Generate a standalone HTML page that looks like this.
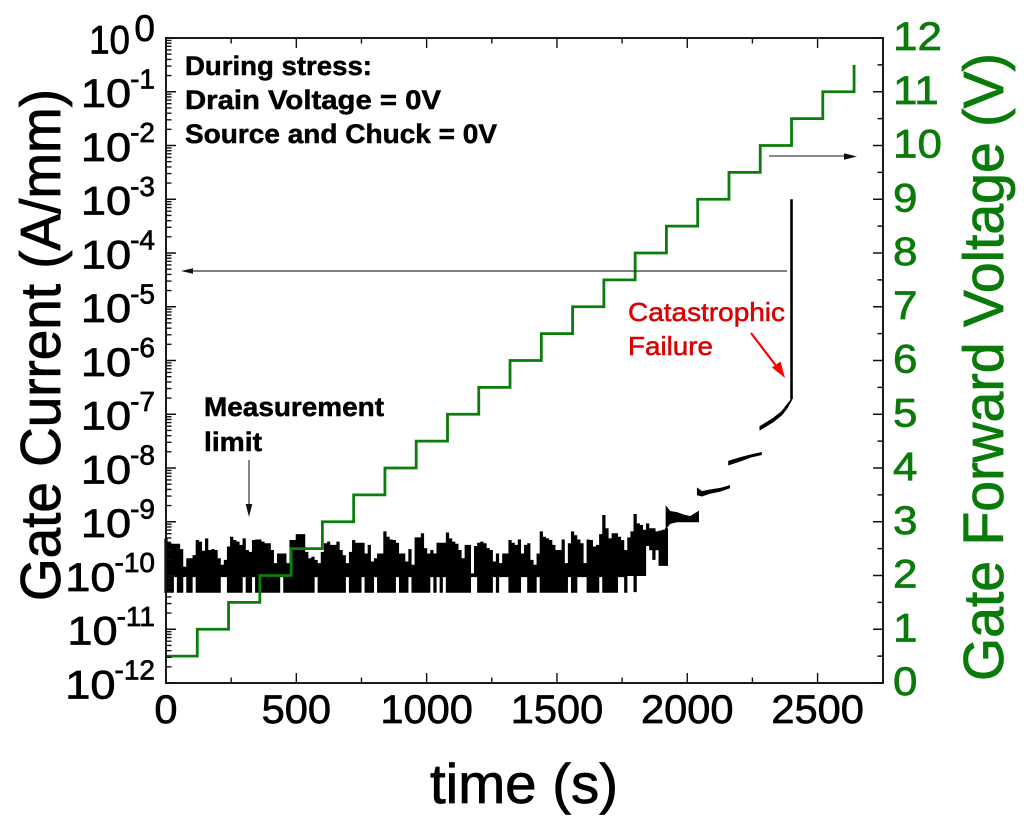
<!DOCTYPE html>
<html lang="en">
<head>
<meta charset="utf-8">
<title>Gate current and forward voltage versus time</title>
<style>
html,body{margin:0;padding:0;background:#fff;}
svg{display:block;filter:blur(0.35px);}
text{font-family:"Liberation Sans",Arial,sans-serif;}
</style>
</head>
<body>
<svg id="chart" xmlns="http://www.w3.org/2000/svg" width="1024" height="823" viewBox="0 0 1024 823">
  <rect width="1024" height="823" fill="#fff"/>
  <g id="noise-layer"></g>
  <g id="green-layer"></g>
  <g id="axis-layer"></g>

  <g>
    <line x1="787" y1="271" x2="188" y2="271" stroke="#333" stroke-width="1.3"/>
    <polygon points="181,271 193,268.3 193,273.7" fill="#111"/>
  </g>
  <g>
    <line x1="769" y1="156" x2="848" y2="156" stroke="#444" stroke-width="1.3"/>
    <polygon points="857,156.5 844,153.3 844,159.7" fill="#111"/>
  </g>
  <g>
    <line x1="249" y1="460" x2="249" y2="508" stroke="#444" stroke-width="1.3"/>
    <polygon points="249,517 245.7,504 252.3,504" fill="#111"/>
  </g>
  <g>
    <line x1="751" y1="333" x2="780" y2="371" stroke="#f00" stroke-width="2.2"/>
    <polygon points="785,378 772,367.5 780.5,361.5" fill="#f00"/>
  </g>

  <text x="185" y="75" font-size="26.5" font-weight="bold" fill="#000" stroke="#000" stroke-width="0.5" textLength="187" lengthAdjust="spacingAndGlyphs">During stress:</text>
  <text x="185" y="109" font-size="26.5" font-weight="bold" fill="#000" stroke="#000" stroke-width="0.5" textLength="256" lengthAdjust="spacingAndGlyphs">Drain Voltage = 0V</text>
  <text x="185" y="143" font-size="26.5" font-weight="bold" fill="#000" stroke="#000" stroke-width="0.5" textLength="312" lengthAdjust="spacingAndGlyphs">Source and Chuck = 0V</text>
  <text x="204" y="416" font-size="26.5" font-weight="bold" fill="#000" stroke="#000" stroke-width="0.5" textLength="180" lengthAdjust="spacingAndGlyphs">Measurement</text>
  <text x="204" y="451" font-size="26.5" font-weight="bold" fill="#000" stroke="#000" stroke-width="0.5" textLength="58" lengthAdjust="spacingAndGlyphs">limit</text>
  <text x="628" y="321" font-size="26" fill="#e00000" stroke="#d00000" stroke-width="0.5" textLength="157" lengthAdjust="spacingAndGlyphs">Catastrophic</text>
  <text x="628" y="355" font-size="26" fill="#e00000" stroke="#d00000" stroke-width="0.5" textLength="85" lengthAdjust="spacingAndGlyphs">Failure</text>

  <text x="430" y="803" font-size="56" fill="#000" stroke="#000" stroke-width="0.8" textLength="188" lengthAdjust="spacingAndGlyphs">time (s)</text>
  <text transform="translate(60,601) rotate(-90)" font-size="57" fill="#000" stroke="#000" stroke-width="0.8" textLength="512" lengthAdjust="spacingAndGlyphs">Gate Current (A/mm)</text>
  <text transform="translate(1003,681) rotate(-90)" font-size="57" fill="#0a7a0a" stroke="#0a7a0a" stroke-width="0.8" textLength="628" lengthAdjust="spacingAndGlyphs">Gate Forward Voltage (V)</text>
</svg>

<script>
// ---- chart data ----
const xTicks = [0, 500, 1000, 1500, 2000, 2500];
const xMinorTicks = [250, 750, 1250, 1750, 2250, 2750];
const leftExponents = [0, -1, -2, -3, -4, -5, -6, -7, -8, -9, -10, -11, -12];
const rightTicks = [0, 1, 2, 3, 4, 5, 6, 7, 8, 9, 10, 11, 12];
const rightMinorTicks = [0.5, 1.5, 2.5, 3.5, 4.5, 5.5, 6.5, 7.5, 8.5, 9.5, 10.5, 11.5];

const stepTimes = [0,120,240,360,480,600,720,840,960,1080,1200,1320,1440,1560,1680,1800,1920,2040,2160,2280,2400,2520,2640];
const stepVolts = [0.5,1,1.5,2,2.5,3,3.5,4,4.5,5,5.5,6,6.5,7,7.5,8,8.5,9,9.5,10,10.5,11,11.5];

// Measurement-limit noise: per-column time, log10 upper and lower current
const noiseTimes = [0,12,24,36,48,60,72,84,96,108,120,132,144,156,168,180,192,204,216,228,240,252,264,276,288,300,312,324,336,348,360,372,384,396,408,420,432,444,456,468,480,492,504,516,528,540,552,564,576,588,600,612,624,636,648,660,672,684,696,708,720,732,744,756,768,780,792,804,816,828,840,852,864,876,888,900,912,924,936,948,960,972,984,996,1008,1020,1032,1044,1056,1068,1080,1092,1104,1116,1128,1140,1152,1164,1176,1188,1200,1212,1224,1236,1248,1260,1272,1284,1296,1308,1320,1332,1344,1356,1368,1380,1392,1404,1416,1428,1440,1452,1464,1476,1488,1500,1512,1524,1536,1548,1560,1572,1584,1596,1608,1620,1632,1644,1656,1668,1680,1692,1704,1716,1728,1740,1752,1764,1776,1788,1800,1812,1824,1836,1848,1860,1872,1884,1896,1908,1920];
const noiseHigh = [
-9.31,-9.37,-9.41,-9.41,-9.41,-9.51,-9.835,-9.68,-9.68,-9.62,-9.34,-9.37,-9.54,-9.31,-9.525,-9.51,-9.525,-9.68,-9.80,-9.71,
-9.46,-9.28,-9.34,-9.37,-9.43,-9.31,-9.525,-9.56,-9.34,-9.33,-9.33,-9.37,-9.40,-9.40,-9.525,-9.77,-9.59,-9.59,-9.59,-9.77,
-9.34,-9.34,-9.23,-9.23,-9.23,-9.56,-9.68,-9.65,-9.71,-9.77,-9.56,-9.40,-9.37,-9.43,-9.43,-9.37,
-9.525,-9.62,-9.77,-9.56,-9.34,-9.39,-9.39,-9.39,-9.59,-9.43,-9.74,-9.68,-9.59,-9.59,-9.18,-9.28,-9.33,-9.34,-9.39,-9.59,
-9.59,-9.74,-9.51,-9.80,-9.29,-9.29,-9.215,-9.49,-9.59,-9.525,-9.59,-9.39,-9.39,-9.39,-9.20,-9.31,-9.37,-9.41,-9.525,-9.68,
-9.43,-9.43,-9.96,-9.45,-9.39,-9.37,-9.40,-9.49,-9.525,-9.74,-9.59,-9.77,-9.59,-9.59,-9.34,-9.39,
-9.43,-9.33,-9.59,-9.43,-9.40,-9.71,-9.80,-9.59,-9.18,-9.28,-9.31,-9.34,-9.43,-9.525,-9.525,-9.33,-9.77,-9.40,-9.18,-9.25,
-9.33,-9.40,-9.77,-9.33,-9.34,-9.46,-9.43,-9.23,-8.875,-9.12,-9.31,-9.215,-9.215,-9.28,-9.34,-9.525,-9.29,-9.18,-8.855,-9.03,
-9.06,-9.15,-9.03,-9.12,-9.12,-9.18,-9.165,-9.15,-9.12];
const noiseLow = [
-10.32,-10.32,-10.32,-10.03,-10.32,-10.32,-10.03,-10.32,-10.32,-10.03,
-10.32,-10.32,-10.32,-10.32,-10.32,-10.32,-10.32,-10.32,-10.03,-10.03,
-10.32,-10.32,-10.32,-10.32,-10.32,-10.03,-10.32,-10.32,-10.03,-10.32,
-10.32,-10.32,-10.32,-10.32,-10.32,-10.32,-10.32,-10.03,-10.32,-10.32,
-10.32,-10.32,-10.32,-10.32,-10.32,-10.32,-10.32,-10.32,-10.03,-10.32,
-10.32,-10.32,-10.32,-10.32,-10.32,-10.32,-10.32,-10.32,-10.03,-10.32,
-10.32,-10.32,-10.32,-10.03,-10.32,-10.32,-10.32,-10.03,-10.32,-10.32,
-10.32,-10.32,-10.32,-10.32,-10.03,-10.32,-10.32,-10.32,-10.03,-10.32,
-10.32,-10.32,-10.32,-10.32,-10.32,-10.03,-10.32,-10.03,-10.32,-10.03,
-10.32,-10.32,-10.32,-10.32,-10.32,-10.32,-10.32,-10.32,-10.03,-10.03,
-10.32,-10.32,-10.32,-10.32,-10.32,-10.03,-10.32,-10.03,-10.03,-10.03,
-10.32,-10.32,-10.32,-10.32,-10.03,-10.03,-10.32,-10.32,-10.32,-10.03,
-10.32,-10.32,-10.32,-10.32,-10.32,-10.32,-10.32,-10.32,-10.32,-10.03,
-10.32,-10.32,-10.03,-10.03,-10.03,-10.32,-10.32,-10.32,-10.32,-10.03,
-10.32,-10.32,-10.32,-10.32,-10.32,-10.03,-10.03,-10.32,-10.01,-10.01,
-10.31,-10.01,-10.01,-10.01,-9.45,-9.53,-9.71,-9.53,-9.82,-9.82,-9.82];

// Post-noise current segments: time, log10 upper edge, log10 lower edge
const segATimes = [1919,1934,1960,1985,2011,2043];
const segAHigh = [-8.72,-8.81,-8.83,-8.875,-8.905,-8.81];
const segALow = [-9.12,-9.03,-9.0,-9.0,-9.0,-9.0];
const segBTimes = [2039,2056,2087,2126,2162];
const segBHigh = [-8.38,-8.44,-8.41,-8.38,-8.33];
const segBLow = [-8.50,-8.52,-8.47,-8.43,-8.37];
const segCTimes = [2159,2203,2241,2284];
const segCHigh = [-7.875,-7.81,-7.76,-7.715];
const segCLow = [-7.94,-7.87,-7.80,-7.75];
const segDTimes = [2279,2330,2363,2382,2400];
const segDHigh = [-7.23,-7.075,-6.95,-6.83,-6.72];
const segDLow = [-7.29,-7.14,-7.01,-6.89,-6.735];
const failureTime = [2400, 2400];
const failureLog = [-6.72, -3.0];

// ---- axis functions ----
const plotLeft = 166, plotRight = 883, plotTop = 38, plotBottom = 683;
const xMax = 2751, logMin = -12, logMax = 0, voltMax = 12;
function sx(t) { return plotLeft + (plotRight - plotLeft) * t / xMax; }
function syLog(v) { return plotBottom - (plotBottom - plotTop) * (v - logMin) / (logMax - logMin); }
function syVolt(v) { return plotBottom - (plotBottom - plotTop) * v / voltMax; }

const NS = 'http://www.w3.org/2000/svg';
const noiseLayer = document.getElementById('noise-layer');
const greenLayer = document.getElementById('green-layer');
const axisLayer = document.getElementById('axis-layer');

function make(tag, attrs, parent) {
  const el = document.createElementNS(NS, tag);
  for (const k in attrs) el.setAttribute(k, attrs[k]);
  parent.appendChild(el);
  return el;
}

// ---- noise columns ----
let noiseD = '';
noiseTimes.forEach(function (t, i) {
  const x = sx(t);
  noiseD += 'M' + (x - 1.62).toFixed(2) + ' ' + syLog(noiseHigh[i]).toFixed(2) +
            'H' + (x + 1.62).toFixed(2) + 'V' + syLog(noiseLow[i]).toFixed(2) +
            'H' + (x - 1.62).toFixed(2) + 'Z';
});
const noisePath = make('path', { d: noiseD, fill: '#000' }, noiseLayer);



// ---- current bands ----
function bandPath(times, high, low) {
  let d = '';
  times.forEach(function (t, i) {
    d += (i ? 'L' : 'M') + sx(t).toFixed(2) + ' ' + syLog(high[i]).toFixed(2);
  });
  for (let i = times.length - 1; i >= 0; i--) {
    d += 'L' + sx(times[i]).toFixed(2) + ' ' + syLog(low[i]).toFixed(2);
  }
  return d + 'Z';
}
const bandA = make('path', { d: bandPath(segATimes, segAHigh, segALow), fill: '#000', stroke: '#000', 'stroke-width': 1 }, noiseLayer);


const bandB = make('path', { d: bandPath(segBTimes, segBHigh, segBLow), fill: '#000', stroke: '#000', 'stroke-width': 1 }, noiseLayer);


const bandC = make('path', { d: bandPath(segCTimes, segCHigh, segCLow), fill: '#000', stroke: '#000', 'stroke-width': 1 }, noiseLayer);


const bandD = make('path', { d: bandPath(segDTimes, segDHigh, segDLow), fill: '#000', stroke: '#000', 'stroke-width': 1 }, noiseLayer);



const failureLine = make('line', {
  x1: sx(failureTime[0]), y1: syLog(failureLog[0]),
  x2: sx(failureTime[1]), y2: syLog(failureLog[1]),
  stroke: '#000', 'stroke-width': 2.6
}, noiseLayer);



// ---- voltage staircase ----
let stepD = 'M' + sx(stepTimes[0]).toFixed(2) + ' ' + syVolt(stepVolts[0]).toFixed(2);
for (let i = 1; i < stepTimes.length; i++) {
  stepD += 'H' + sx(stepTimes[i]).toFixed(2) + 'V' + syVolt(stepVolts[i]).toFixed(2);
}
const stepPath = make('path', { d: stepD, fill: 'none', stroke: '#0a7d0a', 'stroke-width': 2.8 }, greenLayer);



// ---- frame ----
const frame = make('rect', {
  x: plotLeft, y: plotTop, width: plotRight - plotLeft, height: plotBottom - plotTop,
  fill: 'none', stroke: '#111', 'stroke-width': 1.9
}, axisLayer);



// ---- ticks ----
const tickStyle = { stroke: '#111', 'stroke-width': 1.4 };
let tickD = '';
const majorLen = 10, minorLen = 5.5;
xTicks.forEach(function (t) {
  const x = sx(t).toFixed(2);
  tickD += 'M' + x + ' ' + plotBottom + 'v-' + majorLen + 'M' + x + ' ' + plotTop + 'v' + majorLen;
});
xMinorTicks.forEach(function (t) {
  const x = sx(t).toFixed(2);
  tickD += 'M' + x + ' ' + plotBottom + 'v-' + minorLen + 'M' + x + ' ' + plotTop + 'v' + minorLen;
});
leftExponents.forEach(function (e) {
  tickD += 'M' + plotLeft + ' ' + syLog(e).toFixed(2) + 'h' + majorLen;
  if (e > logMin) {
    [2, 3, 4, 5, 6, 7, 8, 9].forEach(function (m) {
      tickD += 'M' + plotLeft + ' ' + syLog(e - 1 + Math.log10(m)).toFixed(2) + 'h' + minorLen;
    });
  }
});
rightTicks.forEach(function (v) {
  tickD += 'M' + plotRight + ' ' + syVolt(v).toFixed(2) + 'h-' + majorLen;
});
rightMinorTicks.forEach(function (v) {
  tickD += 'M' + plotRight + ' ' + syVolt(v).toFixed(2) + 'h-' + minorLen;
});
const tickPath = make('path', Object.assign({ d: tickD, fill: 'none' }, tickStyle), axisLayer);



// ---- tick labels ----
function scaledText(parent, str, x, y, size, sxScale, anchor, fill) {
  const el = make('text', {
    transform: 'translate(' + x + ',' + y + ') scale(' + sxScale + ',1)',
    'font-size': size, 'text-anchor': anchor, fill: fill, stroke: fill, 'stroke-width': 0.7
  }, parent);
  el.textContent = str;
  return el;
}

xTicks.forEach(function (t) {
  const label = scaledText(axisLayer, String(t), sx(t), 723, 40, 1.04, 'middle', '#000');
  
  
});

leftExponents.forEach(function (e) {
  const y = syLog(e);
  const isZero = e === 0;
  const expSize = isZero ? 37 : 28;
  const expLabel = scaledText(axisLayer, String(e), 155, y + (isZero ? 3 : -3.5), expSize, 1, 'end', '#000');
  
  
  const expWidth = expLabel.getComputedTextLength();
  const baseEnd = isZero ? 130 : 155 - expWidth + 1;
  const baseLabel = scaledText(axisLayer, '10', baseEnd, y + 15.3, 40, isZero ? 0.92 : 1.13, 'end', '#000');
  
  
});

rightTicks.forEach(function (v) {
  const label = scaledText(axisLayer, String(v), 893, syVolt(v) + 12, 40, 1.1, 'start', '#0a7a0a');
  
  
});
</script>
</body>
</html>
